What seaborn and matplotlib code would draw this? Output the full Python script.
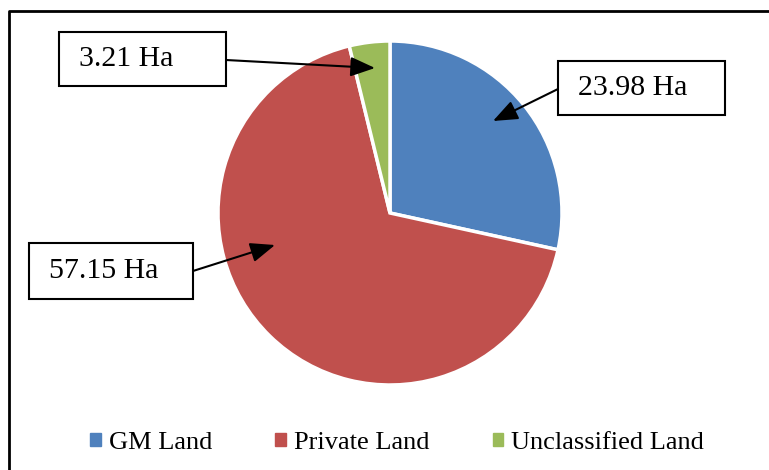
import numpy as np
import matplotlib
matplotlib.use("Agg")
import matplotlib.pyplot as plt
import seaborn as sns

# Land area by category (hectares)
categories = ["GM Land", "Private Land", "Unclassified Land"]
areas = [23.98, 57.15, 3.21]
labels = ["23.98 Ha", "57.15 Ha", "3.21 Ha"]

sns.set_style("white")
plt.rcParams["font.family"] = ["Liberation Serif", "DejaVu Serif"]
plt.rcParams["text.color"] = "black"

colors = ["#4F81BD", "#C0504D", "#9BBB59"]

W, H = 769, 470
fig = plt.figure(figsize=(W / 100, H / 100), dpi=100)
ax = fig.add_axes([0, 0, 1, 1])

# pie in pixel coordinates (y up)
cx, cy, r = 390, H - 213, 172
wedges, _ = ax.pie(areas, colors=colors, startangle=90, counterclock=False,
                   center=(cx, cy), radius=r, frame=True,
                   wedgeprops=dict(edgecolor="white", linewidth=2.5))
ax.set_xlim(0, W)
ax.set_ylim(0, H)
ax.set_aspect("equal")
ax.axis("off")

# label boxes with arrows: box (x0, y_top, w, h), arrow tip, arrow start
arrow_style = dict(arrowstyle="-|>,head_length=1.5,head_width=0.6", color="black", lw=1.5,
                   shrinkA=0, shrinkB=0)
place = {
    "23.98 Ha": ((558, 61, 167, 54), (493, 121), (558, 89)),
    "57.15 Ha": ((29, 243, 164, 56), (275, 245), (193, 271)),
    "3.21 Ha": ((59, 32, 167, 54), (375, 68), (226, 60)),
}
for lab in labels:
    (x0, yt, bw, bh), tip, start = place[lab]
    ax.add_patch(plt.Rectangle((x0, H - yt - bh), bw, bh, facecolor="white",
                               edgecolor="black", lw=1.5, zorder=3))
    ax.text(x0 + 20, H - yt - bh / 2, lab, ha="left", va="center", fontsize=21.5,
            color="black", zorder=4)
    ax.annotate("", xy=(tip[0], H - tip[1]), xytext=(start[0], H - start[1]),
                arrowprops=arrow_style, zorder=5)

# outer frame (top and left visible; extends beyond canvas)
ax.plot([9, 9, W + 5], [-5, H - 11, H - 11], color="black", lw=2, clip_on=False)

handles = [plt.Rectangle((0, 0), 1, 1, color=c) for c in colors]
leg = fig.legend(handles, categories, loc="center", bbox_to_anchor=(397 / W, 1 - 443 / H),
                 ncol=3, frameon=False, fontsize=19, handlelength=0.4, handleheight=0.4,
                 handletextpad=0.3, columnspacing=2.4, borderpad=0)
for t in leg.get_texts():
    t.set_color("black")

fig.savefig("out.png", dpi=100)
